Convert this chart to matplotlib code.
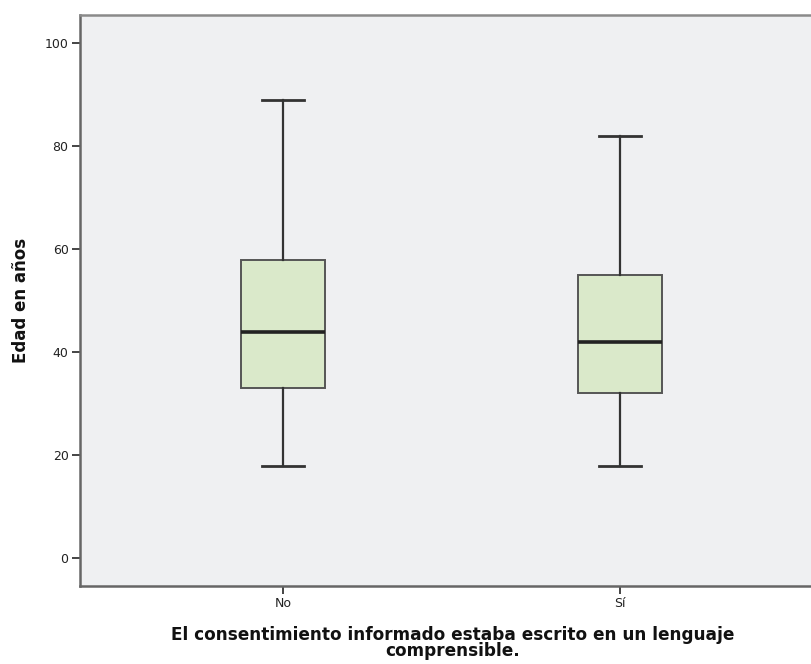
import matplotlib
matplotlib.use("Agg")
import matplotlib.pyplot as plt

# Age distribution (years) by whether the informed consent was written in plain language
categories = ["No", "Sí"]
whisker_low = [18, 18]
q1 = [33, 32]
median = [44, 42]
q3 = [58, 55]
whisker_high = [89, 82]

y_ticks = [0, 20, 40, 60, 80, 100]

W, H = 811, 664
fig = plt.figure(figsize=(W / 100, H / 100), dpi=100)
fig.patch.set_facecolor("white")

left, right, top, bottom = 79.7, 823.7, 14.7, 586.0
ax = fig.add_axes([left / W, 1 - bottom / H, (right - left) / W, (bottom - top) / H])
ax.set_facecolor("#eff0f2")

stats = []
for i, name in enumerate(categories):
    stats.append(dict(label=name, whislo=whisker_low[i], q1=q1[i], med=median[i],
                      q3=q3[i], whishi=whisker_high[i], fliers=[]))

ax.bxp(stats, positions=[1, 2], widths=0.25, capwidths=0.125, patch_artist=True,
       showfliers=False,
       boxprops=dict(facecolor="#dae9ca", edgecolor="#555555", linewidth=1.4),
       whiskerprops=dict(color="#333333", linewidth=1.6),
       capprops=dict(color="#333333", linewidth=2.0),
       medianprops=dict(color="#222222", linewidth=2.6))

ax.set_xlim(0.395, 2.605)
ax.set_ylim(-5.38, 105.55)
ax.set_yticks(y_ticks)
ax.set_xticks([1, 2])
ax.set_xticklabels(categories)

for side in ["left", "bottom", "top"]:
    ax.spines[side].set_color("#666666")
    ax.spines[side].set_linewidth(1.8)
ax.spines["top"].set_color("#8a8a8a")
ax.spines["right"].set_visible(False)

ax.tick_params(axis="both", direction="out", length=6, width=1.4, color="#444444",
               labelsize=9, labelcolor="#222222", pad=2)

ax.set_ylabel("Edad en años", fontsize=12, fontweight="bold", color="#111111")
ax.yaxis.set_label_coords((30 - left) / (right - left), 0.5)
ax.set_xlabel("El consentimiento informado estaba escrito en un lenguaje\ncomprensible.",
              fontsize=12.2, fontweight="bold", color="#111111",
              linespacing=0.9, va="center")
ax.xaxis.set_label_coords((453 - left) / (right - left), (bottom - 643) / (bottom - top))

fig.savefig("out.png", dpi=100, facecolor="white")
